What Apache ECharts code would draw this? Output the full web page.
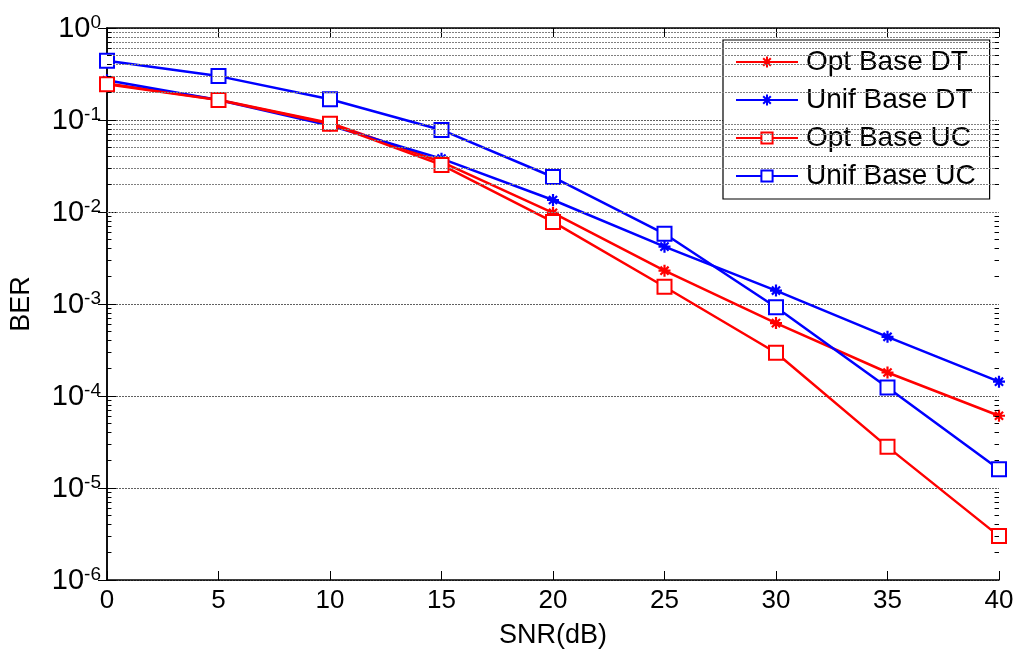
<!DOCTYPE html>
<html>
<head>
<meta charset="utf-8">
<script src="https://cdn.jsdelivr.net/npm/echarts@6/dist/echarts.min.js"></script>
<style>
    html, body { margin: 0; padding: 0; background: #fff; }
    #chart { width: 1019px; height: 657px; }
</style>
</head>
<body>
<div id="chart"></div>
<script>
// SNR (dB) on the x axis
const snr = [0, 5, 10, 15, 20, 25, 30, 35, 40];

// BER values
const optBaseDT = [0.25, 0.166, 0.093, 0.035, 0.0098, 0.0023, 6.2e-4, 1.8e-4, 6.1e-5];
const unifBaseDT = [0.27, 0.165, 0.087, 0.038, 0.0135, 0.0042, 1.4e-3, 4.4e-4, 1.43e-4];
const optBaseUC = [0.245, 0.165, 0.091, 0.0325, 0.0078, 0.00154, 2.95e-4, 2.8e-5, 3.0e-6];
const unifBaseUC = [0.44, 0.30, 0.168, 0.078, 0.024, 0.0058, 9.2e-4, 1.24e-4, 1.6e-5];

const seriesNames = ['Opt Base DT', 'Unif Base DT', 'Opt Base UC', 'Unif Base UC'];

// y axis decades and the 2..9 minor grid positions inside them
const decades = [-6, -5, -4, -3, -2, -1];
const minorSteps = [2, 3, 4, 5, 6, 7, 8, 9];

const RED = '#ff0000';
const BLUE = '#0000ff';
const FONT = 'Liberation Sans, Arial, sans-serif';
const STAR = 'path://M5,0L5,10M0,5L10,5M1.6,1.6L8.4,8.4M1.6,8.4L8.4,1.6';
const GRID_LINE = { color: '#7f7f7f', width: 1, type: [2, 1] };

function pairs(ys) {
    return snr.map((x, i) => [x, ys[i]]);
}

function minorValues() {
    const out = [];
    decades.forEach(d => {
        minorSteps.forEach(m => out.push(m * Math.pow(10, d)));
    });
    return out;
}

// minor grid lines across the plot
function minorGrid() {
    return minorValues().map(v => ({ yAxis: v }));
}

// short inward minor ticks on the left and right edges
function minorTicks() {
    const out = [];
    minorValues().forEach(v => {
        out.push([{ coord: [0, v] }, { coord: [0.2, v] }]);
        out.push([{ coord: [39.8, v] }, { coord: [40, v] }]);
    });
    return out;
}

function powLabel(v) {
    const e = Math.round(Math.log10(v));
    return '{b|10}{s|' + e + '}';
}

function makeSeries(name, ys, color, square) {
    return {
        name: name,
        type: 'line',
        data: pairs(ys),
        symbol: square ? 'emptyRect' : STAR,
        symbolSize: square ? 14 : 12,
        showAllSymbol: true,
        lineStyle: { color: color, width: 2.5 },
        itemStyle: square
            ? { color: color, borderWidth: 2 }
            : { color: color, borderColor: color, borderWidth: 2.2 },
        emphasis: { disabled: true },
        z: 3
    };
}

const chart = echarts.init(document.getElementById('chart'), null, { renderer: 'canvas' });

const axisText = { color: '#000', fontFamily: FONT, fontSize: 26 };

chart.setOption({
    animation: false,
    backgroundColor: '#fff',
    textStyle: { fontFamily: FONT },
    grid: { left: 107, top: 28, right: 20, bottom: 77, containLabel: false },
    legend: {
        orient: 'vertical',
        left: 723,
        top: 40,
        data: seriesNames,
        itemWidth: 62,
        itemHeight: 14,
        itemGap: 10,
        padding: [8, 14, 9, 12],
        backgroundColor: '#fff',
        borderColor: '#000',
        borderWidth: 1.2,
        borderRadius: 0,
        selectedMode: false,
        textStyle: { color: '#000', fontFamily: FONT, fontSize: 28, lineHeight: 28, padding: [0, 0, 0, 3] }
    },
    xAxis: [
        {
            type: 'value',
            min: 0,
            max: 40,
            interval: 5,
            name: 'SNR(dB)',
            nameLocation: 'middle',
            nameGap: 42,
            nameTextStyle: { color: '#000', fontFamily: FONT, fontSize: 27 },
            axisLine: { onZero: false, lineStyle: { color: '#000', width: 1.5 } },
            axisTick: { inside: true, length: 9, lineStyle: { color: '#000' } },
            axisLabel: Object.assign({ margin: 8 }, axisText),
            splitLine: { show: false }
        },
        {
            type: 'value',
            position: 'top',
            min: 0,
            max: 40,
            interval: 5,
            axisLine: { onZero: false, lineStyle: { color: '#000', width: 1.5 } },
            axisTick: { inside: true, length: 9, lineStyle: { color: '#000' } },
            axisLabel: { show: false },
            splitLine: { show: false }
        }
    ],
    yAxis: [
        {
            type: 'log',
            logBase: 10,
            min: 1e-6,
            max: 1,
            splitNumber: 6,
            name: 'BER',
            nameLocation: 'middle',
            nameGap: 72,
            nameRotate: 90,
            nameTextStyle: { color: '#000', fontFamily: FONT, fontSize: 27 },
            axisLine: { lineStyle: { color: '#000', width: 1.5 } },
            axisTick: { inside: true, length: 9, lineStyle: { color: '#000' } },
            axisLabel: {
                margin: 6,
                color: '#000',
                fontFamily: FONT,
                fontSize: 29,
                formatter: powLabel,
                rich: {
                    b: { color: '#000', fontFamily: FONT, fontSize: 29, lineHeight: 29, padding: [6, 0, 4, 0], verticalAlign: 'middle' },
                    s: { color: '#000', fontFamily: FONT, fontSize: 19, lineHeight: 19, verticalAlign: 'top' }
                }
            },
            splitLine: { show: true, lineStyle: { color: '#606060', width: 1, type: [2, 1] } }
        },
        {
            type: 'log',
            logBase: 10,
            position: 'right',
            min: 1e-6,
            max: 1,
            splitNumber: 6,
            axisLine: { lineStyle: { color: '#000', width: 1.5 } },
            axisTick: { inside: true, length: 9, lineStyle: { color: '#000' } },
            axisLabel: { show: false },
            splitLine: { show: false }
        }
    ],
    series: [
        {
            name: 'minor-grid',
            type: 'line',
            data: [],
            silent: true,
            z: 1,
            markLine: {
                silent: true,
                symbol: 'none',
                animation: false,
                label: { show: false },
                lineStyle: GRID_LINE,
                data: minorGrid()
            }
        },
        {
            name: 'minor-ticks',
            type: 'line',
            data: [],
            silent: true,
            z: 2,
            markLine: {
                silent: true,
                symbol: 'none',
                animation: false,
                label: { show: false },
                lineStyle: { color: '#000', width: 1, type: 'solid' },
                data: minorTicks()
            }
        },
        makeSeries(seriesNames[0], optBaseDT, RED, false),
        makeSeries(seriesNames[1], unifBaseDT, BLUE, false),
        makeSeries(seriesNames[2], optBaseUC, RED, true),
        makeSeries(seriesNames[3], unifBaseUC, BLUE, true)
    ]
});
</script>
</body>
</html>
